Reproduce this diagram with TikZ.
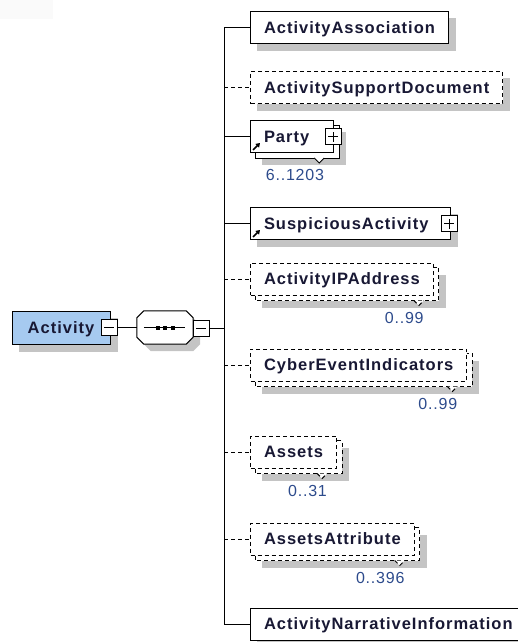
\documentclass[tikz,border=0pt]{standalone}
\usepackage{fontspec}
\newfontfamily\elemfont[LetterSpace=6]{Liberation Sans}
\newfontfamily\numfont[LetterSpace=5]{Liberation Sans}
\usetikzlibrary{arrows.meta,calc}
\definecolor{shadowgray}{RGB}{196,196,196}
\definecolor{rootblue}{RGB}{166,202,240}
\definecolor{elemtext}{RGB}{24,24,52}
\definecolor{numblue}{RGB}{45,75,140}
\pgfdeclarelayer{shadowlayer}
\pgfdeclarelayer{backlayer}
\pgfsetlayers{shadowlayer,backlayer,main}
\tikzset{
  boxline/.style={draw=black, line width=1pt},
  dashline/.style={dash pattern=on 4pt off 3pt},
  elem/.style={boxline, fill=white, minimum height=32pt, inner xsep=13.5pt, inner ysep=0pt,
    anchor=west, text height=11.8pt, text depth=0pt, text=elemtext,
    font=\elemfont\bfseries\fontsize{16.5}{19}\selectfont},
  optelem/.style={elem, dashline},
  rootbox/.style={elem, anchor=center, fill=rootblue, minimum width=98pt, inner xsep=0pt, minimum height=33pt},
  occ/.style={font=\numfont\fontsize{16}{19}\selectfont, text=numblue, inner sep=0pt,
    anchor=east, text height=11.5pt, text depth=0pt},
  btn/.style={boxline, fill=white, minimum size=16pt, inner sep=0pt},
  minusbtn/.style={btn, path picture={\draw[line width=1pt] ([xshift=-5pt]path picture bounding box.center) -- ([xshift=5pt]path picture bounding box.center);}},
  plusbtn/.style={btn, path picture={\draw[line width=1pt] ([xshift=-5pt]path picture bounding box.center) -- ([xshift=5pt]path picture bounding box.center) ([yshift=-5pt]path picture bounding box.center) -- ([yshift=5pt]path picture bounding box.center);}},
  conn/.style={line width=1pt, draw=black},
  refarrow/.style={line width=1.6pt, -{Triangle[length=4pt,width=5pt]}},
  hidden/.style={draw=none, fill=none, inner sep=0pt},
}
\newcommand{\singleshadow}[1]{%
  \begin{pgfonlayer}{shadowlayer}
    \fill[shadowgray] ([shift={(7,7)}]#1.north west) rectangle ([shift={(7,7)}]#1.south east);
  \end{pgfonlayer}}
\newcommand{\stackedelem}[3]{%
  \coordinate (#1bse) at ([shift={(5,5)}]#1.south east);
  \begin{pgfonlayer}{shadowlayer}
    \fill[shadowgray] ([shift={(12,12)}]#1.north west) rectangle ([shift={(12,12)}]#1.south east);
  \end{pgfonlayer}
  \begin{pgfonlayer}{backlayer}
    \draw[boxline, #2, fill=white] ([shift={(5,5)}]#1.north west) rectangle (#1bse);
    \draw[boxline, #2, fill=white] ([shift={(-25,0)}]#1bse) -- ([shift={(-20,5)}]#1bse) -- ([shift={(-15,0)}]#1bse);
  \end{pgfonlayer}
  \node[occ] (#1occ) at ([shift={(-15,17)}]#1bse) {#3};}
\begin{document}
\begin{tikzpicture}[x=1pt, y=-1pt]
\useasboundingbox (0,0) rectangle (518,642);
\fill[black!2] (0,0) rectangle (53,19);

% root element
\node[rootbox] (act) at (61,327.5) {Activity};
\singleshadow{act}
\node[minusbtn] (actbtn) at (109,327.5) {};

% sequence compositor
\node[hidden, minimum width=56pt, minimum height=33pt] (seq) at (165,327.5) {};
\begin{pgfonlayer}{shadowlayer}
  \fill[shadowgray] ([shift={(14,7)}]seq.north west) -- ([shift={(-7+7,7)}]seq.north east)
    -- ([shift={(7,7+7)}]seq.north east) -- ([shift={(7,-7+7)}]seq.south east)
    -- ([shift={(-7+7,7)}]seq.south east) -- ([shift={(7+7,7)}]seq.south west)
    -- ([shift={(7,-7+7)}]seq.south west) -- ([shift={(7,7+7)}]seq.north west) -- cycle;
\end{pgfonlayer}
\draw[boxline, fill=white] ([xshift=7pt]seq.north west) -- ([xshift=-7pt]seq.north east)
  -- ([shift={(0,7)}]seq.north east) -- ([shift={(0,-7)}]seq.south east)
  -- ([xshift=-7pt]seq.south east) -- ([xshift=7pt]seq.south west)
  -- ([shift={(0,-7)}]seq.south west) -- ([shift={(0,7)}]seq.north west) -- cycle;
\draw[line width=1pt] ([xshift=7pt]seq.west) -- ([xshift=-8pt]seq.east);
\foreach \dx in {-7.5,0,7.5}
  \fill ([shift={(\dx-2,-2)}]seq.center) rectangle ([shift={(\dx+2,2)}]seq.center);
\node[minusbtn] (seqbtn) at (201,328) {};

% children
\node[elem] (aa) at (250,28) {ActivityAssociation};
\singleshadow{aa}
\node[optelem] (asd) at (250,87.5) {ActivitySupportDocument};
\singleshadow{asd}
\node[elem] (party) at (250,136.5) {Party\hspace*{11pt}};
\stackedelem{party}{}{6..1203}
\node[plusbtn] (partybtn) at ([shift={(-1,0)}]party.east) {};
\draw[refarrow] ([shift={(3,-3)}]party.south west) -- ([shift={(10,-10)}]party.south west);
\node[elem] (sa) at (250,223.5) {SuspiciousActivity\hspace*{8.5pt}};
\singleshadow{sa}
\node[plusbtn] (sabtn) at ([shift={(-1.5,0)}]sa.east) {};
\draw[refarrow] ([shift={(3,-3)}]sa.south west) -- ([shift={(10,-10)}]sa.south west);
\node[optelem] (ip) at (250,279) {ActivityIPAddress};
\stackedelem{ip}{dashline}{0..99}
\node[optelem] (cyb) at (250,365) {CyberEventIndicators};
\stackedelem{cyb}{dashline}{0..99}
\node[optelem] (assets) at (250,452) {Assets};
\stackedelem{assets}{dashline}{0..31}
\node[optelem] (aat) at (250,539) {AssetsAttribute};
\stackedelem{aat}{dashline}{0..396}
\node[elem] (nar) at (250,624) {ActivityNarrativeInformation};
\singleshadow{nar}

% connectors
\coordinate (spine) at (224,0);
\draw[conn] (actbtn.east) -- (seq.west);
\draw[conn] (seqbtn.east) -- (seqbtn.east -| spine);
\draw[conn] (aa.west) -- (aa.west -| spine) -- (nar.west -| spine) -- (nar.west);
\draw[conn] (party.west -| spine) -- (party.west);
\draw[conn] (sa.west -| spine) -- (sa.west);
\draw[conn, dashline] (asd.west -| spine) -- (asd.west);
\draw[conn, dashline] (ip.west -| spine) -- (ip.west);
\draw[conn, dashline] (cyb.west -| spine) -- (cyb.west);
\draw[conn, dashline] (assets.west -| spine) -- (assets.west);
\draw[conn, dashline] (aat.west -| spine) -- (aat.west);
\end{tikzpicture}
\end{document}
